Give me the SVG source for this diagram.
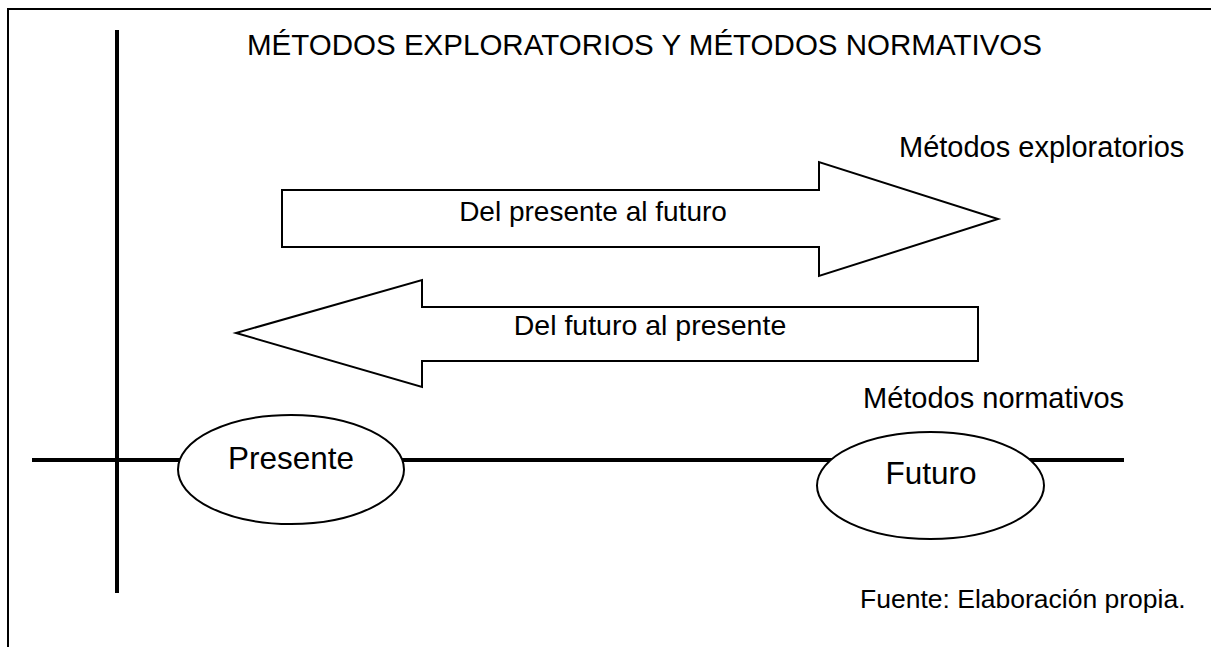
<svg xmlns="http://www.w3.org/2000/svg" width="1211" height="647" viewBox="0 0 1211 647">
<style>
text{font-family:"Liberation Sans",Arial,sans-serif;fill:#000}
.shape{fill:#fff;stroke:#000;stroke-width:2}
.axis{stroke:#000;stroke-width:4;fill:none}
</style>
<rect width="1211" height="647" fill="#fff"/>
<rect id="frame" x="8" y="9" width="1230" height="670" fill="none" stroke="#000" stroke-width="2"/>
<text id="title" x="247" y="55" font-size="29" textLength="795" lengthAdjust="spacingAndGlyphs">MÉTODOS EXPLORATORIOS Y MÉTODOS NORMATIVOS</text>
<g id="connectors">
<line class="axis" x1="117" y1="30" x2="117" y2="593"/>
<line class="axis" x1="32" y1="460" x2="1124" y2="460"/>
</g>
<g id="arrow-explor">
<polygon class="shape" points="282,190 819,190 819,162 998,219 819,276 819,247 282,247"/>
<text x="593" y="221" font-size="28" text-anchor="middle">Del presente al futuro</text>
</g>
<g id="arrow-norm">
<polygon class="shape" points="978,307 422,307 422,280 236,333 422,387 422,361 978,361"/>
<text x="650" y="335" font-size="28.5" text-anchor="middle">Del futuro al presente</text>
</g>
<g id="label-explor"><text x="899" y="157" font-size="29">Métodos exploratorios</text></g>
<g id="label-norm"><text x="863" y="408" font-size="29">Métodos normativos</text></g>
<g id="presente">
<ellipse class="shape" cx="291" cy="469.5" rx="113" ry="54.5"/>
<text x="291" y="469" font-size="31.5" text-anchor="middle">Presente</text>
</g>
<g id="futuro">
<ellipse class="shape" cx="930.5" cy="485.5" rx="113.5" ry="53.5"/>
<text x="931" y="484" font-size="31.5" text-anchor="middle">Futuro</text>
</g>
<g id="source"><text x="860" y="608" font-size="26.5">Fuente: Elaboración propia.</text></g>
</svg>
